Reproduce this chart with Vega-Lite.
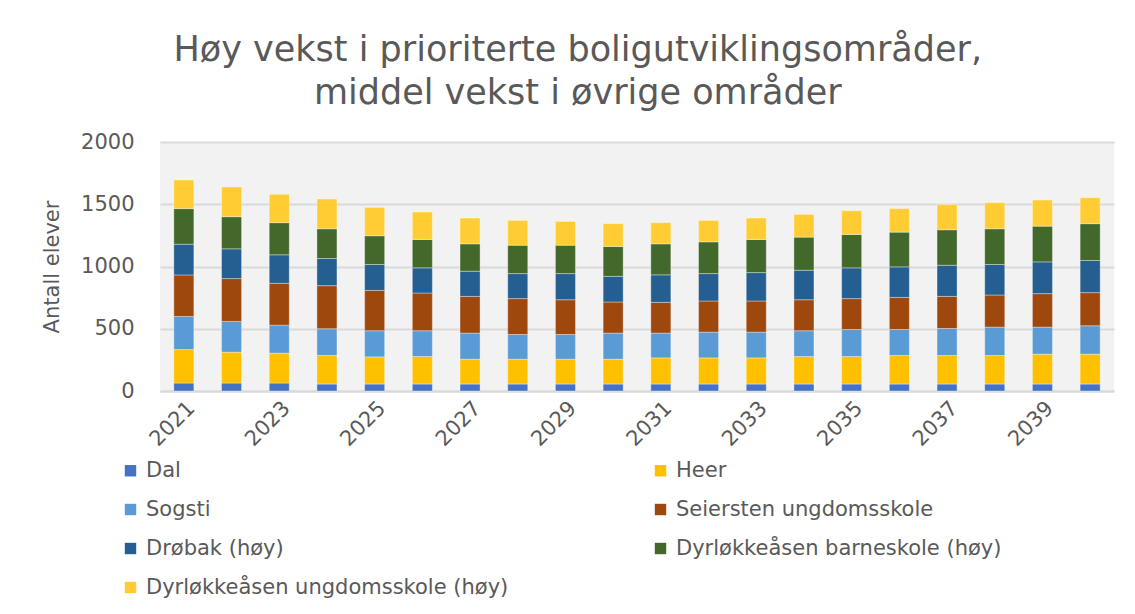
{
  "$schema": "https://vega.github.io/schema/vega-lite/v6.json",
  "width": 954,
  "height": 249,
  "autosize": {"type": "none"},
  "padding": {"left": 160, "top": 142, "right": 21, "bottom": 223},
  "background": "#FFFFFF",
  "config": {
    "font": "DejaVu Sans",
    "view": {"fill": "#F2F2F2", "stroke": null}
  },
  "title": {
    "text": ["Høy vekst i prioriterte boligutviklingsområder,", "middel vekst i øvrige områder"],
    "fontSize": 35,
    "font": "DejaVu Sans",
    "fontWeight": "normal",
    "color": "#595959",
    "anchor": "middle",
    "frame": "bounds",
    "lineHeight": 43,
    "offset": 20
  },
  "datasets": {
    "schools": [
      {"school": "Dal", "rank": 1},
      {"school": "Heer", "rank": 2},
      {"school": "Sogsti", "rank": 3},
      {"school": "Seiersten ungdomsskole", "rank": 4},
      {"school": "Drøbak (høy)", "rank": 5},
      {"school": "Dyrløkkeåsen barneskole (høy)", "rank": 6},
      {"school": "Dyrløkkeåsen ungdomsskole (høy)", "rank": 7}
    ]
  },
  "data": {
    "values": [
      {"year": 2021, "school": "Dal", "students": 64},
      {"year": 2021, "school": "Heer", "students": 269},
      {"year": 2021, "school": "Sogsti", "students": 266},
      {"year": 2021, "school": "Seiersten ungdomsskole", "students": 333},
      {"year": 2021, "school": "Drøbak (høy)", "students": 247},
      {"year": 2021, "school": "Dyrløkkeåsen barneskole (høy)", "students": 286},
      {"year": 2021, "school": "Dyrløkkeåsen ungdomsskole (høy)", "students": 230},
      {"year": 2022, "school": "Dal", "students": 64},
      {"year": 2022, "school": "Heer", "students": 248},
      {"year": 2022, "school": "Sogsti", "students": 247},
      {"year": 2022, "school": "Seiersten ungdomsskole", "students": 344},
      {"year": 2022, "school": "Drøbak (høy)", "students": 239},
      {"year": 2022, "school": "Dyrløkkeåsen barneskole (høy)", "students": 258},
      {"year": 2022, "school": "Dyrløkkeåsen ungdomsskole (høy)", "students": 239},
      {"year": 2023, "school": "Dal", "students": 64},
      {"year": 2023, "school": "Heer", "students": 240},
      {"year": 2023, "school": "Sogsti", "students": 225},
      {"year": 2023, "school": "Seiersten ungdomsskole", "students": 336},
      {"year": 2023, "school": "Drøbak (høy)", "students": 229},
      {"year": 2023, "school": "Dyrløkkeåsen barneskole (høy)", "students": 258},
      {"year": 2023, "school": "Dyrløkkeåsen ungdomsskole (høy)", "students": 228},
      {"year": 2024, "school": "Dal", "students": 56},
      {"year": 2024, "school": "Heer", "students": 229},
      {"year": 2024, "school": "Sogsti", "students": 215},
      {"year": 2024, "school": "Seiersten ungdomsskole", "students": 346},
      {"year": 2024, "school": "Drøbak (høy)", "students": 218},
      {"year": 2024, "school": "Dyrløkkeåsen barneskole (høy)", "students": 239},
      {"year": 2024, "school": "Dyrløkkeåsen ungdomsskole (høy)", "students": 239},
      {"year": 2025, "school": "Dal", "students": 56},
      {"year": 2025, "school": "Heer", "students": 218},
      {"year": 2025, "school": "Sogsti", "students": 210},
      {"year": 2025, "school": "Seiersten ungdomsskole", "students": 324},
      {"year": 2025, "school": "Drøbak (høy)", "students": 208},
      {"year": 2025, "school": "Dyrløkkeåsen barneskole (høy)", "students": 231},
      {"year": 2025, "school": "Dyrløkkeåsen ungdomsskole (høy)", "students": 228},
      {"year": 2026, "school": "Dal", "students": 56},
      {"year": 2026, "school": "Heer", "students": 221},
      {"year": 2026, "school": "Sogsti", "students": 207},
      {"year": 2026, "school": "Seiersten ungdomsskole", "students": 303},
      {"year": 2026, "school": "Drøbak (høy)", "students": 202},
      {"year": 2026, "school": "Dyrløkkeåsen barneskole (høy)", "students": 228},
      {"year": 2026, "school": "Dyrløkkeåsen ungdomsskole (høy)", "students": 220},
      {"year": 2027, "school": "Dal", "students": 56},
      {"year": 2027, "school": "Heer", "students": 199},
      {"year": 2027, "school": "Sogsti", "students": 210},
      {"year": 2027, "school": "Seiersten ungdomsskole", "students": 295},
      {"year": 2027, "school": "Drøbak (høy)", "students": 202},
      {"year": 2027, "school": "Dyrløkkeåsen barneskole (høy)", "students": 220},
      {"year": 2027, "school": "Dyrløkkeåsen ungdomsskole (høy)", "students": 207},
      {"year": 2028, "school": "Dal", "students": 56},
      {"year": 2028, "school": "Heer", "students": 199},
      {"year": 2028, "school": "Sogsti", "students": 199},
      {"year": 2028, "school": "Seiersten ungdomsskole", "students": 288},
      {"year": 2028, "school": "Drøbak (høy)", "students": 201},
      {"year": 2028, "school": "Dyrløkkeåsen barneskole (høy)", "students": 228},
      {"year": 2028, "school": "Dyrløkkeåsen ungdomsskole (høy)", "students": 199},
      {"year": 2029, "school": "Dal", "students": 56},
      {"year": 2029, "school": "Heer", "students": 199},
      {"year": 2029, "school": "Sogsti", "students": 199},
      {"year": 2029, "school": "Seiersten ungdomsskole", "students": 279},
      {"year": 2029, "school": "Drøbak (høy)", "students": 210},
      {"year": 2029, "school": "Dyrløkkeåsen barneskole (høy)", "students": 228},
      {"year": 2029, "school": "Dyrløkkeåsen ungdomsskole (høy)", "students": 191},
      {"year": 2030, "school": "Dal", "students": 56},
      {"year": 2030, "school": "Heer", "students": 199},
      {"year": 2030, "school": "Sogsti", "students": 210},
      {"year": 2030, "school": "Seiersten ungdomsskole", "students": 250},
      {"year": 2030, "school": "Drøbak (høy)", "students": 206},
      {"year": 2030, "school": "Dyrløkkeåsen barneskole (høy)", "students": 240},
      {"year": 2030, "school": "Dyrløkkeåsen ungdomsskole (høy)", "students": 183},
      {"year": 2031, "school": "Dal", "students": 56},
      {"year": 2031, "school": "Heer", "students": 210},
      {"year": 2031, "school": "Sogsti", "students": 199},
      {"year": 2031, "school": "Seiersten ungdomsskole", "students": 247},
      {"year": 2031, "school": "Drøbak (høy)", "students": 221},
      {"year": 2031, "school": "Dyrløkkeåsen barneskole (høy)", "students": 249},
      {"year": 2031, "school": "Dyrløkkeåsen ungdomsskole (høy)", "students": 170},
      {"year": 2032, "school": "Dal", "students": 56},
      {"year": 2032, "school": "Heer", "students": 210},
      {"year": 2032, "school": "Sogsti", "students": 207},
      {"year": 2032, "school": "Seiersten ungdomsskole", "students": 250},
      {"year": 2032, "school": "Drøbak (høy)", "students": 220},
      {"year": 2032, "school": "Dyrløkkeåsen barneskole (høy)", "students": 255},
      {"year": 2032, "school": "Dyrløkkeåsen ungdomsskole (høy)", "students": 172},
      {"year": 2033, "school": "Dal", "students": 56},
      {"year": 2033, "school": "Heer", "students": 210},
      {"year": 2033, "school": "Sogsti", "students": 207},
      {"year": 2033, "school": "Seiersten ungdomsskole", "students": 250},
      {"year": 2033, "school": "Drøbak (høy)", "students": 228},
      {"year": 2033, "school": "Dyrløkkeåsen barneskole (høy)", "students": 266},
      {"year": 2033, "school": "Dyrløkkeåsen ungdomsskole (høy)", "students": 172},
      {"year": 2034, "school": "Dal", "students": 56},
      {"year": 2034, "school": "Heer", "students": 221},
      {"year": 2034, "school": "Sogsti", "students": 207},
      {"year": 2034, "school": "Seiersten ungdomsskole", "students": 249},
      {"year": 2034, "school": "Drøbak (høy)", "students": 237},
      {"year": 2034, "school": "Dyrløkkeåsen barneskole (høy)", "students": 266},
      {"year": 2034, "school": "Dyrløkkeåsen ungdomsskole (høy)", "students": 183},
      {"year": 2035, "school": "Dal", "students": 56},
      {"year": 2035, "school": "Heer", "students": 221},
      {"year": 2035, "school": "Sogsti", "students": 217},
      {"year": 2035, "school": "Seiersten ungdomsskole", "students": 248},
      {"year": 2035, "school": "Drøbak (høy)", "students": 247},
      {"year": 2035, "school": "Dyrløkkeåsen barneskole (høy)", "students": 268},
      {"year": 2035, "school": "Dyrløkkeåsen ungdomsskole (høy)", "students": 191},
      {"year": 2036, "school": "Dal", "students": 56},
      {"year": 2036, "school": "Heer", "students": 229},
      {"year": 2036, "school": "Sogsti", "students": 209},
      {"year": 2036, "school": "Seiersten ungdomsskole", "students": 258},
      {"year": 2036, "school": "Drøbak (høy)", "students": 245},
      {"year": 2036, "school": "Dyrløkkeåsen barneskole (høy)", "students": 279},
      {"year": 2036, "school": "Dyrløkkeåsen ungdomsskole (høy)", "students": 189},
      {"year": 2037, "school": "Dal", "students": 56},
      {"year": 2037, "school": "Heer", "students": 229},
      {"year": 2037, "school": "Sogsti", "students": 217},
      {"year": 2037, "school": "Seiersten ungdomsskole", "students": 258},
      {"year": 2037, "school": "Drøbak (høy)", "students": 250},
      {"year": 2037, "school": "Dyrløkkeåsen barneskole (høy)", "students": 285},
      {"year": 2037, "school": "Dyrløkkeåsen ungdomsskole (høy)", "students": 202},
      {"year": 2038, "school": "Dal", "students": 56},
      {"year": 2038, "school": "Heer", "students": 229},
      {"year": 2038, "school": "Sogsti", "students": 228},
      {"year": 2038, "school": "Seiersten ungdomsskole", "students": 258},
      {"year": 2038, "school": "Drøbak (høy)", "students": 245},
      {"year": 2038, "school": "Dyrløkkeåsen barneskole (høy)", "students": 287},
      {"year": 2038, "school": "Dyrløkkeåsen ungdomsskole (høy)", "students": 210},
      {"year": 2039, "school": "Dal", "students": 56},
      {"year": 2039, "school": "Heer", "students": 240},
      {"year": 2039, "school": "Sogsti", "students": 217},
      {"year": 2039, "school": "Seiersten ungdomsskole", "students": 269},
      {"year": 2039, "school": "Drøbak (høy)", "students": 255},
      {"year": 2039, "school": "Dyrløkkeåsen barneskole (høy)", "students": 287},
      {"year": 2039, "school": "Dyrløkkeåsen ungdomsskole (høy)", "students": 210},
      {"year": 2040, "school": "Dal", "students": 56},
      {"year": 2040, "school": "Heer", "students": 240},
      {"year": 2040, "school": "Sogsti", "students": 228},
      {"year": 2040, "school": "Seiersten ungdomsskole", "students": 266},
      {"year": 2040, "school": "Drøbak (høy)", "students": 258},
      {"year": 2040, "school": "Dyrløkkeåsen barneskole (høy)", "students": 296},
      {"year": 2040, "school": "Dyrløkkeåsen ungdomsskole (høy)", "students": 209}
    ]
  },
  "transform": [
    {"lookup": "school", "from": {"data": {"name": "schools"}, "key": "school", "fields": ["rank"]}}
  ],
  "mark": {"type": "bar", "stroke": "#FFFFFF", "strokeOpacity": 0.35, "strokeWidth": 1},
  "encoding": {
    "x": {
      "field": "year",
      "type": "ordinal",
      "scale": {"paddingInner": 0.58, "paddingOuter": 0.29},
      "axis": {
        "title": null,
        "values": [2021, 2023, 2025, 2027, 2029, 2031, 2033, 2035, 2037, 2039],
        "labelAngle": -45,
        "labelFontSize": 21,
        "labelColor": "#595959",
        "labelPadding": 6,
        "ticks": false,
        "domainColor": "#D9D9D9",
        "domainWidth": 2,
        "labelOverlap": false
      }
    },
    "y": {
      "field": "students",
      "type": "quantitative",
      "stack": "zero",
      "scale": {"domain": [0, 2000], "nice": false},
      "axis": {
        "title": "Antall elever",
        "titleFontSize": 21,
        "titleFontWeight": "normal",
        "titleColor": "#595959",
        "titlePadding": 18,
        "values": [0, 500, 1000, 1500, 2000],
        "format": "d",
        "labelFontSize": 21,
        "labelColor": "#595959",
        "labelPadding": 26,
        "ticks": false,
        "domain": false,
        "gridColor": "#D9D9D9",
        "gridWidth": 2
      }
    },
    "color": {
      "field": "school",
      "type": "nominal",
      "scale": {
        "domain": ["Dal", "Heer", "Sogsti", "Seiersten ungdomsskole", "Drøbak (høy)", "Dyrløkkeåsen barneskole (høy)", "Dyrløkkeåsen ungdomsskole (høy)"],
        "range": ["#4472C4", "#FFC000", "#5B9BD5", "#9E480E", "#255E91", "#43682B", "#FFCD33"]
      },
      "legend": {
        "title": null,
        "orient": "none",
        "legendX": -40,
        "legendY": 318,
        "columns": 2,
        "direction": "horizontal",
        "columnPadding": 141,
        "rowPadding": 17,
        "symbolType": "square",
        "symbolSize": 130,
        "symbolStrokeWidth": 0,
        "labelFontSize": 21,
        "labelColor": "#595959",
        "labelOffset": 5,
        "labelLimit": 600
      }
    },
    "order": {"field": "rank", "type": "quantitative", "sort": "ascending"}
  }
}
